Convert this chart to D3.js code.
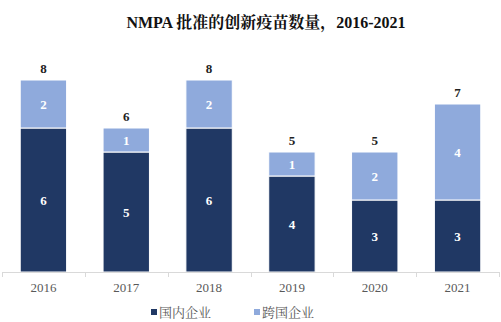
<!DOCTYPE html>
<html>
<head>
<meta charset="utf-8">
<script src="https://d3js.org/d3.v7.min.js"></script>
<style>
    body { margin: 0; background: #fff; }
    svg text { font-family: "Liberation Serif", "Times New Roman", "Noto Serif CJK SC", "Noto Sans CJK SC", serif; }
</style>
</head>
<body>
<div id="chart"></div>
<script>
    var years = ["2016", "2017", "2018", "2019", "2020", "2021"];
    var domestic = [6, 5, 6, 4, 3, 3];
    var foreign = [2, 1, 2, 1, 2, 4];
    var seriesNames = ["国内企业", "跨国企业"];
    var colors = ["#203864", "#8faadc"];

    var width = 501, height = 322;
    var svg = d3.select("#chart").append("svg")
        .attr("width", width).attr("height", height);

    // title
    svg.append("text")
        .attr("x", 266).attr("y", 28)
        .attr("text-anchor", "middle")
        .style("font-size", "16px").style("font-weight", "bold")
        .style("fill", "#111")
        .text("NMPA 批准的创新疫苗数量，2016-2021");

    var rows = years.map(function (y, i) {
        return { year: y, "国内企业": domestic[i], "跨国企业": foreign[i] };
    });
    var stack = d3.stack().keys(seriesNames)(rows);

    var x = d3.scaleBand().domain(years).range([2, 499]).paddingInner(0.44).paddingOuter(0.22);
    var y = d3.scaleLinear().domain([0, 8]).range([272, 80]);

    var layer = svg.selectAll("g.layer").data(stack).enter().append("g")
        .attr("class", "layer")
        .attr("fill", function (d, i) { return colors[i]; });

    layer.selectAll("rect").data(function (d) { return d; }).enter().append("rect")
        .attr("x", function (d) { return x(d.data.year); })
        .attr("width", x.bandwidth())
        .attr("y", function (d) { return y(d[1]); })
        .attr("height", function (d) { return y(d[0]) - y(d[1]); })
        .attr("stroke", "#fff").attr("stroke-width", 1);

    // segment labels
    layer.selectAll("text.seg").data(function (d) { return d; }).enter().append("text")
        .attr("class", "seg")
        .attr("x", function (d) { return x(d.data.year) + x.bandwidth() / 2; })
        .attr("y", function (d) { return (y(d[0]) + y(d[1])) / 2 + 4.5; })
        .attr("text-anchor", "middle")
        .style("font-size", "13px").style("font-weight", "bold")
        .style("fill", "#fff")
        .text(function (d) { return d[1] - d[0]; });

    // totals
    svg.selectAll("text.total").data(rows).enter().append("text")
        .attr("class", "total")
        .attr("x", function (d) { return x(d.year) + x.bandwidth() / 2; })
        .attr("y", function (d) { return y(d["国内企业"] + d["跨国企业"]) - 7; })
        .attr("text-anchor", "middle")
        .style("font-size", "13px").style("font-weight", "bold")
        .style("fill", "#222")
        .text(function (d) { return d["国内企业"] + d["跨国企业"]; });

    // axis
    var axisG = svg.append("g");
    axisG.append("line")
        .attr("x1", 2).attr("x2", 499).attr("y1", 272.5).attr("y2", 272.5)
        .attr("stroke", "#d9d9d9");
    var step = x.step();
    d3.range(years.length + 1).forEach(function (i) {
        var tx = Math.round(2 + i * step) + 0.5;
        axisG.append("line")
            .attr("x1", tx).attr("x2", tx).attr("y1", 272).attr("y2", 277)
            .attr("stroke", "#d9d9d9");
    });
    axisG.selectAll("text").data(years).enter().append("text")
        .attr("x", function (d) { return x(d) + x.bandwidth() / 2; })
        .attr("y", 292)
        .attr("text-anchor", "middle")
        .style("font-size", "13px")
        .style("fill", "#595959")
        .text(function (d) { return d; });

    // legend
    var legendX = [151, 254];
    var lg = svg.selectAll("g.legend").data(seriesNames).enter().append("g")
        .attr("class", "legend")
        .attr("transform", function (d, i) { return "translate(" + legendX[i] + ",312)"; });
    lg.append("rect")
        .attr("x", 0).attr("y", -3).attr("width", 6).attr("height", 6)
        .attr("fill", function (d, i) { return colors[i]; });
    lg.append("text")
        .attr("x", 8).attr("y", 4.5)
        .style("font-size", "13px")
        .style("fill", "#595959")
        .text(function (d) { return d; });
</script>
</body>
</html>
